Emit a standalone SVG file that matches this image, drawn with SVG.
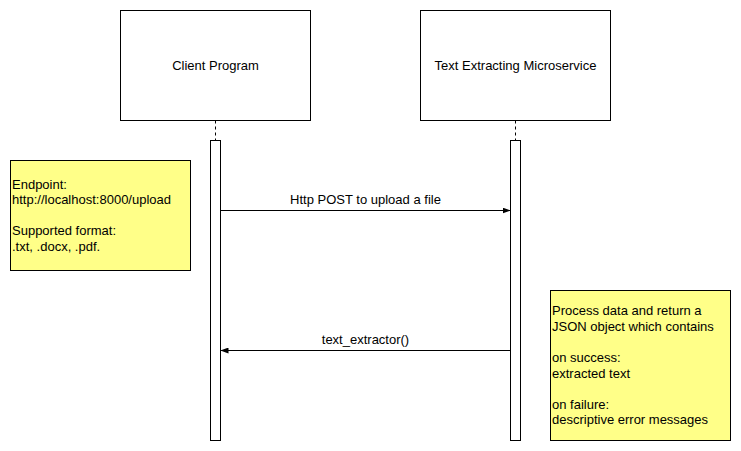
<svg xmlns="http://www.w3.org/2000/svg" width="741" height="451" viewBox="0 0 741 451">
<style>
text{font-family:"Liberation Sans",Arial,sans-serif;font-size:13px;fill:#000}
.box{fill:#fff;stroke:#000;stroke-width:1}
.note{fill:#ffff88;stroke:#000;stroke-width:1}
.life{stroke:#000;stroke-width:1;stroke-dasharray:3 3;fill:none}
.msg{stroke:#000;stroke-width:1;fill:none}
.c{text-anchor:middle}
</style>
<defs>
<marker id="arr" viewBox="0 0 8 6" refX="8" refY="3" markerWidth="8" markerHeight="6" markerUnits="userSpaceOnUse" orient="auto">
<path d="M0,0 L8,3 L0,6 Z" fill="#000"/>
</marker>
</defs>
<rect width="741" height="451" fill="#fff"/>
<g id="client">
<rect class="box" x="120.5" y="10.5" width="190" height="110"/>
<text class="c" x="215.5" y="69.5">Client Program</text>
<line class="life" x1="215.5" y1="120.5" x2="215.5" y2="140.5"/>
<rect class="box" x="210.5" y="140.5" width="10" height="300"/>
</g>
<g id="service">
<rect class="box" x="420.5" y="10.5" width="190" height="110"/>
<text class="c" x="515.5" y="69.5">Text Extracting Microservice</text>
<line class="life" x1="515.5" y1="120.5" x2="515.5" y2="140.5"/>
<rect class="box" x="510.5" y="140.5" width="10" height="300"/>
</g>
<g id="note-endpoint">
<rect class="note" x="10.5" y="160.5" width="180" height="110"/>
<text x="12" y="188.5">Endpoint:</text>
<text x="12" y="204">http://localhost:8000/upload</text>
<text x="12" y="235.3">Supported format:</text>
<text x="12" y="251">.txt, .docx, .pdf.</text>
</g>
<g id="note-result">
<rect class="note" x="550.5" y="290.5" width="180" height="150"/>
<text x="552" y="315">Process data and return a</text>
<text x="552" y="330.7">JSON object which contains</text>
<text x="552" y="361.9">on success:</text>
<text x="552" y="377.5">extracted text</text>
<text x="552" y="408.7">on failure:</text>
<text x="552" y="424.3">descriptive error messages</text>
</g>
<g id="connectors">
<line class="msg" x1="220.5" y1="210.5" x2="510.5" y2="210.5" marker-end="url(#arr)"/>
<text class="c" x="365.5" y="203.5">Http POST to upload a file</text>
<line class="msg" x1="510.5" y1="350.5" x2="220.5" y2="350.5" marker-end="url(#arr)"/>
<text class="c" x="365.5" y="343.5">text_extractor()</text>
</g>
</svg>
